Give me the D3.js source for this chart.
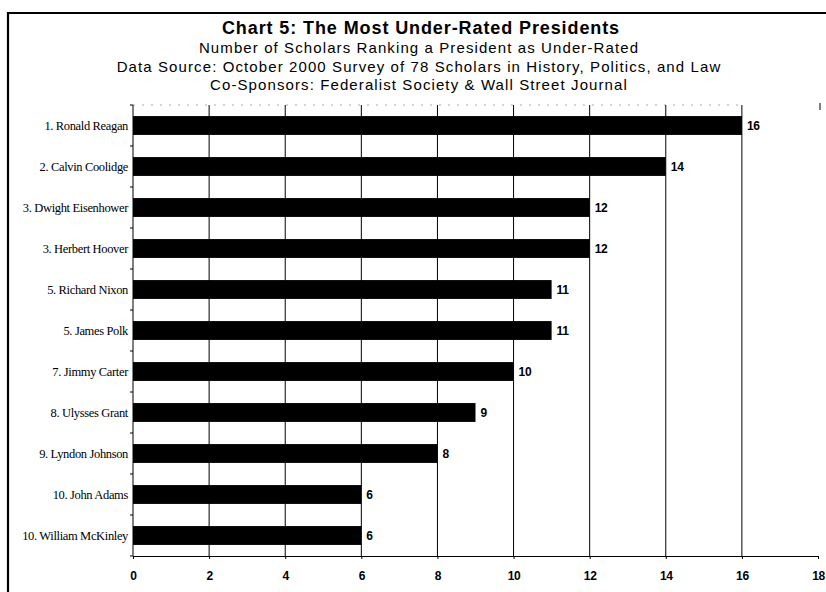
<!DOCTYPE html>
<html>
<head>
<meta charset="utf-8">
<script src="https://d3js.org/d3.v7.min.js"></script>
<style>
  body { margin: 0; background: #fff; }
  svg { display: block; }
  .axis path, .axis line { stroke: #000; }
</style>
</head>
<body>
<svg width="826" height="592"></svg>
<script>
    // data
    var presidents = ["1. Ronald Reagan", "2. Calvin Coolidge", "3. Dwight Eisenhower", "3. Herbert Hoover",
        "5. Richard Nixon", "5. James Polk", "7. Jimmy Carter", "8. Ulysses Grant",
        "9. Lyndon Johnson", "10. John Adams", "10. William McKinley"];
    var scholars = [16, 14, 12, 12, 11, 11, 10, 9, 8, 6, 6];
    var xTicks = [0, 2, 4, 6, 8, 10, 12, 14, 16, 18];
    var titleLines = [
        "Number of Scholars Ranking a President as Under-Rated",
        "Data Source: October 2000 Survey of 78 Scholars in History, Politics, and Law",
        "Co-Sponsors: Federalist Society & Wall Street Journal"
    ];

    var svg = d3.select("svg");
    var data = presidents.map(function(d, i) { return {name: d, value: scholars[i]}; });

    var plotLeft = 133, plotRight = 818, plotTop = 105, plotBottom = 556;

    var x = d3.scaleLinear().domain([0, 18]).range([plotLeft, plotRight]);
    var y = d3.scaleBand().domain(presidents).range([plotTop, plotBottom])
        .paddingInner(0.54).paddingOuter(0.27);

    // frame (only top and left visible in the crop)
    svg.append("path")
        .attr("d", "M8,600 L8,13 L830,13")
        .attr("fill", "none")
        .attr("stroke", "#000")
        .attr("stroke-width", 2.2);

    // titles
    svg.append("text")
        .attr("x", 421).attr("y", 34)
        .attr("text-anchor", "middle")
        .style("font-family", "'Liberation Sans', Arial, sans-serif")
        .style("font-weight", "bold")
        .style("font-size", "18px")
        .style("letter-spacing", "0.9px")
        .text("Chart 5: The Most Under-Rated Presidents");

    svg.selectAll(".sub")
        .data(titleLines)
        .enter().append("text")
        .attr("class", "sub")
        .attr("x", 419)
        .attr("y", function(d, i) { return 53 + i * 18.5; })
        .attr("text-anchor", "middle")
        .style("font-family", "'Liberation Sans', Arial, sans-serif")
        .style("font-size", "15px")
        .style("letter-spacing", "1.1px")
        .text(function(d) { return d; });

    // faint top edge of the plot area
    svg.append("line")
        .attr("x1", plotLeft).attr("x2", x(16))
        .attr("y1", plotTop).attr("y2", plotTop)
        .attr("stroke", "#aaa")
        .attr("stroke-dasharray", "2,7");

    // gridlines
    svg.selectAll(".grid")
        .data(xTicks.filter(function(d) { return d > 0 && d < 18; }))
        .enter().append("line")
        .attr("class", "grid")
        .attr("x1", function(d) { return x(d); })
        .attr("x2", function(d) { return x(d); })
        .attr("y1", plotTop)
        .attr("y2", plotBottom)
        .attr("stroke", "#000")
        .attr("stroke-width", 1);

    // bars
    svg.selectAll(".bar")
        .data(data)
        .enter().append("rect")
        .attr("class", "bar")
        .attr("x", x(0))
        .attr("y", function(d) { return y(d.name); })
        .attr("width", function(d) { return x(d.value) - x(0); })
        .attr("height", y.bandwidth())
        .attr("fill", "#000");

    // value labels
    svg.selectAll(".val")
        .data(data)
        .enter().append("text")
        .attr("class", "val")
        .attr("x", function(d) { return x(d.value) + 5; })
        .attr("y", function(d) { return y(d.name) + y.bandwidth() / 2; })
        .attr("dy", "0.35em")
        .style("font-family", "'Liberation Sans', Arial, sans-serif")
        .style("font-weight", "bold")
        .style("font-size", "12px")
        .style("letter-spacing", "-0.3px")
        .text(function(d) { return d.value; });

    // x axis
    var xAxis = svg.append("g")
        .attr("class", "axis")
        .attr("transform", "translate(0," + plotBottom + ")")
        .call(d3.axisBottom(x).tickValues(xTicks).tickSize(3).tickSizeOuter(0).tickPadding(12));
    xAxis.selectAll("text")
        .style("font-family", "'Liberation Sans', Arial, sans-serif")
        .style("font-weight", "bold")
        .style("font-size", "12px")
        .style("letter-spacing", "-0.3px")
        .attr("fill", "#000");

    // y axis
    var yAxis = svg.append("g")
        .attr("class", "axis")
        .attr("transform", "translate(" + plotLeft + ",0)")
        .call(d3.axisLeft(y).tickSize(0).tickPadding(5));
    yAxis.select(".domain").remove();
    yAxis.append("line")
        .attr("x1", 0).attr("x2", 0)
        .attr("y1", plotTop).attr("y2", plotBottom)
        .attr("stroke", "#000");
    // small ticks between categories
    yAxis.selectAll(".sep")
        .data(d3.range(presidents.length + 1))
        .enter().append("line")
        .attr("class", "sep")
        .attr("x1", -3).attr("x2", 0)
        .attr("y1", function(i) { return plotTop + i * y.step(); })
        .attr("y2", function(i) { return plotTop + i * y.step(); })
        .attr("stroke", "#000");
    yAxis.selectAll(".tick text")
        .style("font-family", "'Liberation Serif', 'Times New Roman', serif")
        .style("font-size", "12.5px")
        .style("letter-spacing", "-0.35px")
        .attr("fill", "#000");

    // stray mark at the top of the 18 line
    svg.append("line")
        .attr("x1", x(18) + 2).attr("x2", x(18) + 2)
        .attr("y1", 103).attr("y2", 110)
        .attr("stroke", "#000");
</script>
</body>
</html>
